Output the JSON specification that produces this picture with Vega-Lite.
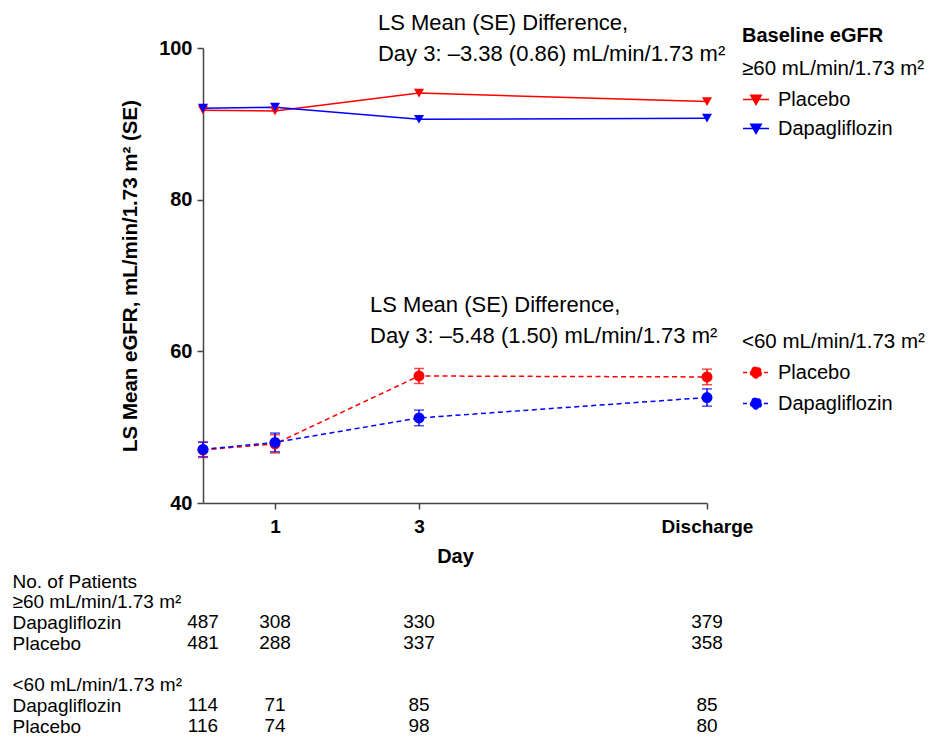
{
  "$schema": "https://vega.github.io/schema/vega-lite/v6.json",
  "padding": {"left": 12, "top": 12, "right": 0, "bottom": 0},
  "config": {
    "font": "Liberation Sans",
    "view": {"stroke": null},
    "axis": {"grid": false, "domainColor": "#444", "tickColor": "#444", "domainWidth": 1.5, "tickWidth": 1.5, "labelColor": "#000", "titleColor": "#000"},
    "legend": {"labelColor": "#000", "titleColor": "#000"},
    "concat": {"spacing": 6}
  },
  "datasets": {
    "means": [
      {"group": "≥60", "arm": "Placebo", "day": 0, "mean": 91.8},
      {"group": "≥60", "arm": "Placebo", "day": 1, "mean": 91.7},
      {"group": "≥60", "arm": "Placebo", "day": 3, "mean": 94.05},
      {"group": "≥60", "arm": "Placebo", "day": 7, "mean": 92.93},
      {"group": "≥60", "arm": "Dapagliflozin", "day": 0, "mean": 92.07},
      {"group": "≥60", "arm": "Dapagliflozin", "day": 1, "mean": 92.2},
      {"group": "≥60", "arm": "Dapagliflozin", "day": 3, "mean": 90.6},
      {"group": "≥60", "arm": "Dapagliflozin", "day": 7, "mean": 90.75},
      {"group": "<60", "arm": "Placebo", "day": 0, "mean": 47.0, "lo": 46.0, "hi": 48.0},
      {"group": "<60", "arm": "Placebo", "day": 1, "mean": 47.8, "lo": 46.6, "hi": 49.0},
      {"group": "<60", "arm": "Placebo", "day": 3, "mean": 56.75, "lo": 55.76, "hi": 57.74},
      {"group": "<60", "arm": "Placebo", "day": 7, "mean": 56.62, "lo": 55.6, "hi": 57.65},
      {"group": "<60", "arm": "Dapagliflozin", "day": 0, "mean": 47.07, "lo": 46.1, "hi": 48.04},
      {"group": "<60", "arm": "Dapagliflozin", "day": 1, "mean": 47.99, "lo": 46.76, "hi": 49.22},
      {"group": "<60", "arm": "Dapagliflozin", "day": 3, "mean": 51.22, "lo": 50.19, "hi": 52.25},
      {"group": "<60", "arm": "Dapagliflozin", "day": 7, "mean": 53.91, "lo": 52.77, "hi": 55.05}
    ],
    "counts": [
      {"row": "≥60|Dapagliflozin", "day": 0, "n": 487},
      {"row": "≥60|Dapagliflozin", "day": 1, "n": 308},
      {"row": "≥60|Dapagliflozin", "day": 3, "n": 330},
      {"row": "≥60|Dapagliflozin", "day": 7, "n": 379},
      {"row": "≥60|Placebo", "day": 0, "n": 481},
      {"row": "≥60|Placebo", "day": 1, "n": 288},
      {"row": "≥60|Placebo", "day": 3, "n": 337},
      {"row": "≥60|Placebo", "day": 7, "n": 358},
      {"row": "<60|Dapagliflozin", "day": 0, "n": 114},
      {"row": "<60|Dapagliflozin", "day": 1, "n": 71},
      {"row": "<60|Dapagliflozin", "day": 3, "n": 85},
      {"row": "<60|Dapagliflozin", "day": 7, "n": 85},
      {"row": "<60|Placebo", "day": 0, "n": 116},
      {"row": "<60|Placebo", "day": 1, "n": 74},
      {"row": "<60|Placebo", "day": 3, "n": 98},
      {"row": "<60|Placebo", "day": 7, "n": 80}
    ]
  },
  "resolve": {"scale": {"x": "independent", "y": "independent"}},
  "vconcat": [
    {
      "width": 504,
      "height": 455,
      "layer": [
        {
          "data": {"name": "means"},
          "transform": [{"filter": "datum.group == '≥60'"}],
          "layer": [
            {
              "mark": {"type": "line", "strokeWidth": 1.5},
              "encoding": {
                "x": {
                  "field": "day", "type": "quantitative",
                  "scale": {"domain": [0, 7], "nice": false, "zero": false},
                  "axis": {"values": [1, 3, 7], "format": "d", "labelExpr": "datum.value == 7 ? 'Discharge' : datum.label", "labelFlush": false, "labelOverlap": false, "tickSize": 6, "labelPadding": 8, "labelFontSize": 19, "labelFontWeight": "bold", "title": "Day", "titleFontSize": 20, "titleFontWeight": "bold", "titlePadding": 10}
                },
                "y": {
                  "field": "mean", "type": "quantitative",
                  "scale": {"domain": [40, 100], "nice": false, "zero": false},
                  "axis": {"values": [40, 60, 80, 100], "tickSize": 6, "labelPadding": 5, "labelFontSize": 20, "labelFontWeight": "bold", "title": "LS Mean eGFR, mL/min/1.73 m² (SE)", "titleFontSize": 20.5, "titleFontWeight": "bold", "titlePadding": 18}
                },
                "color": {"field": "arm", "type": "nominal", "scale": {"domain": ["Placebo", "Dapagliflozin"], "range": ["#ff0000", "#0000ff"]},
                  "legend": {"orient": "none", "legendX": 539, "legendY": 11, "padding": 0, "title": "≥60 mL/min/1.73 m²", "titleFontSize": 20.5, "titleFontWeight": "normal", "titleLimit": 400, "titlePadding": 6, "labelFontSize": 20, "labelOffset": 8, "rowPadding": 5, "symbolType": "M-1,0L1,0M-0.4,-0.33L0.4,-0.33L0,0.38Z", "symbolSize": 676, "symbolStrokeWidth": 1.5,
                    "encode": {"symbols": {"update": {"fill": {"signal": "datum.value == 'Placebo' ? '#ff0000' : '#0000ff'"}, "stroke": {"signal": "datum.value == 'Placebo' ? '#ff0000' : '#0000ff'"}, "opacity": {"value": 1}}}}}
                }
              }
            },
            {
              "mark": {"type": "point", "shape": "triangle-down", "filled": true, "size": 100, "opacity": 1},
              "encoding": {
                "x": {"field": "day", "type": "quantitative"},
                "y": {"field": "mean", "type": "quantitative", "title": "LS Mean eGFR, mL/min/1.73 m² (SE)"},
                "color": {"field": "arm", "type": "nominal", "scale": {"domain": ["Placebo", "Dapagliflozin"], "range": ["#ff0000", "#0000ff"]}}
              }
            }
          ]
        },
        {
          "data": {"name": "means"},
          "transform": [{"filter": "datum.group == '<60'"}],
          "layer": [
            {
              "mark": {"type": "line", "strokeWidth": 1.5, "strokeDash": [5, 3.5]},
              "encoding": {
                "x": {"field": "day", "type": "quantitative"},
                "y": {"field": "mean", "type": "quantitative", "title": "LS Mean eGFR, mL/min/1.73 m² (SE)"},
                "color": {"field": "arm", "type": "nominal", "scale": {"domain": ["Placebo", "Dapagliflozin"], "range": ["#ff0000", "#0000ff"]},
                  "legend": {"orient": "none", "legendX": 539, "legendY": 284, "padding": 0, "title": "<60 mL/min/1.73 m²", "titleFontSize": 20.5, "titleFontWeight": "normal", "titleLimit": 400, "titlePadding": 6, "labelFontSize": 20, "labelOffset": 8, "rowPadding": 7, "symbolType": "M-1,0L1,0M0.42,0A0.42,0.42 0 1,1 -0.42,0A0.42,0.42 0 1,1 0.42,0Z", "symbolSize": 676, "symbolStrokeWidth": 1.5, "symbolDash": [4, 3],
                    "encode": {"symbols": {"update": {"fill": {"signal": "datum.value == 'Placebo' ? '#ff0000' : '#0000ff'"}, "stroke": {"signal": "datum.value == 'Placebo' ? '#ff0000' : '#0000ff'"}, "opacity": {"value": 1}}}}}
                }
              }
            },
            {
              "mark": {"type": "errorbar", "ticks": true, "size": 10, "thickness": 1.5},
              "encoding": {
                "x": {"field": "day", "type": "quantitative"},
                "y": {"field": "lo", "type": "quantitative", "title": "LS Mean eGFR, mL/min/1.73 m² (SE)"},
                "y2": {"field": "hi"},
                "color": {"field": "arm", "type": "nominal", "scale": {"domain": ["Placebo", "Dapagliflozin"], "range": ["#ff0000", "#0000ff"]}}
              }
            },
            {
              "mark": {"type": "point", "shape": "circle", "filled": true, "size": 121, "opacity": 1},
              "encoding": {
                "x": {"field": "day", "type": "quantitative"},
                "y": {"field": "mean", "type": "quantitative", "title": "LS Mean eGFR, mL/min/1.73 m² (SE)"},
                "color": {"field": "arm", "type": "nominal", "scale": {"domain": ["Placebo", "Dapagliflozin"], "range": ["#ff0000", "#0000ff"]}}
              }
            }
          ]
        },
        {
          "data": {"values": [{}]},
          "mark": {"type": "text", "align": "left", "baseline": "middle", "fontSize": 22, "lineHeight": 31},
          "encoding": {
            "x": {"datum": 2.43, "type": "quantitative"},
            "y": {"datum": 103.29, "type": "quantitative"},
            "text": {"value": ["LS Mean (SE) Difference,", "Day 3: –3.38 (0.86) mL/min/1.73 m²"]}
          }
        },
        {
          "data": {"values": [{}]},
          "mark": {"type": "text", "align": "left", "baseline": "middle", "fontSize": 22, "lineHeight": 31},
          "encoding": {
            "x": {"datum": 2.32, "type": "quantitative"},
            "y": {"datum": 66.05, "type": "quantitative"},
            "text": {"value": ["LS Mean (SE) Difference,", "Day 3: –5.48 (1.50) mL/min/1.73 m²"]}
          }
        },
        {
          "data": {"values": [{}]},
          "mark": {"type": "text", "align": "left", "baseline": "middle", "fontSize": 20, "fontWeight": "bold"},
          "encoding": {
            "x": {"datum": 7.486, "type": "quantitative"},
            "y": {"datum": 101.58, "type": "quantitative"},
            "text": {"value": "Baseline eGFR"}
          }
        }
      ],
      "resolve": {"scale": {"color": "independent"}}
    },
    {
      "width": 504,
      "height": 145,
      "data": {"name": "counts"},
      "mark": {"type": "text", "align": "center", "baseline": "middle", "fontSize": 19},
      "encoding": {
        "x": {"field": "day", "type": "quantitative", "scale": {"domain": [0, 7], "nice": false, "zero": false}, "axis": null},
        "y": {
          "field": "row", "type": "nominal",
          "scale": {"type": "point", "padding": 0, "domain": ["No. of Patients", "≥60 mL/min/1.73 m²", "≥60|Dapagliflozin", "≥60|Placebo", " ", "<60 mL/min/1.73 m²", "<60|Dapagliflozin", "<60|Placebo"]},
          "axis": {"title": null, "domain": false, "ticks": false, "labelAlign": "left", "labelPadding": 191, "labelFontSize": 19, "labelLimit": 400, "labelColor": "#000",
            "labelExpr": "indexof(datum.label, '|') >= 0 ? slice(datum.label, indexof(datum.label, '|') + 1) : datum.label"}
        },
        "text": {"field": "n", "type": "quantitative"}
      }
    }
  ]
}
